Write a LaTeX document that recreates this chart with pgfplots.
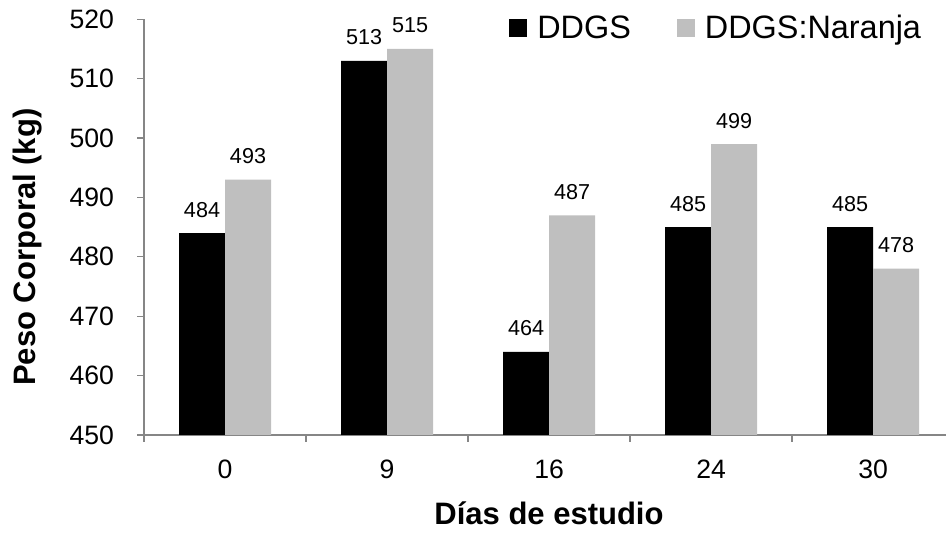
\documentclass[border=0pt]{standalone}
\usepackage{pgfplots}
\pgfplotsset{compat=1.18}
\usepackage{fontspec}
\setmainfont{Liberation Sans}
\definecolor{bargray}{RGB}{191,191,191}
\definecolor{axisgray}{RGB}{134,134,134}

\begin{document}
\begin{tikzpicture}
\useasboundingbox (0,0) rectangle (473pt,267pt);
\begin{axis}[
  at={(72pt,49.5pt)}, anchor=south west,
  scale only axis, width=401pt, height=207.85pt,
  ybar=0pt, bar width=23pt,
  xmin=-0.5, xmax=4.45, ymin=450, ymax=520,
  ytick={450,460,...,520},
  xtick={-0.5,0.5,1.5,2.5,3.5}, xticklabels={,,,,},
  extra x ticks={0,1,2,3,4},
  extra x tick labels={0,9,16,24,30},
  extra x tick style={major tick length=0pt},
  axis x line=bottom, axis y line=left,
  axis line style={-, draw=axisgray, line width=0.6pt},
  tick style={draw=axisgray, line width=0.6pt},
  tick align=outside, major tick length=3.5pt,
  tick label style={font=\fontsize{13.3}{15}\selectfont, text=black},
  /pgf/number format/assume math mode=true,
  yticklabel style={xshift=-8pt},
  xticklabel style={yshift=-9pt},
  xlabel={\textbf{Días de estudio}},
  ylabel={\textbf{Peso Corporal (kg)}},
  label style={font=\fontsize{15.5}{18}\selectfont},
  xlabel style={at={(rel axis cs:0.5,0)}, anchor=base, yshift=-45pt, xshift=2pt},
  ylabel style={at={(rel axis cs:0,0.5)}, anchor=center, yshift=58pt, xshift=-10pt},
  nodes near coords,
  nodes near coords style={font=\fontsize{10.8}{12}\selectfont, text=black, anchor=base, yshift=8pt},
  clip=false,
  legend columns=2,
  legend style={draw=none, fill=none, at={(0.455,0.978)}, anchor=west,
    font=\fontsize{16.2}{18}\selectfont, inner sep=0pt,
    nodes={inner sep=2pt},
    /tikz/every even column/.append style={column sep=21pt}},
  legend image code/.code={\fill[#1] (0pt,-4.5pt) rectangle (9pt,4.5pt); \path (12pt,0pt);},
]
\addplot[fill=black, draw=none] coordinates {(0,484) (1,513) (2,464) (3,485) (4,485)};
\addplot[fill=bargray, draw=none] coordinates {(0,493) (1,515) (2,487) (3,499) (4,478)};
\legend{DDGS, DDGS:Naranja}
\end{axis}
\end{tikzpicture}
\end{document}
